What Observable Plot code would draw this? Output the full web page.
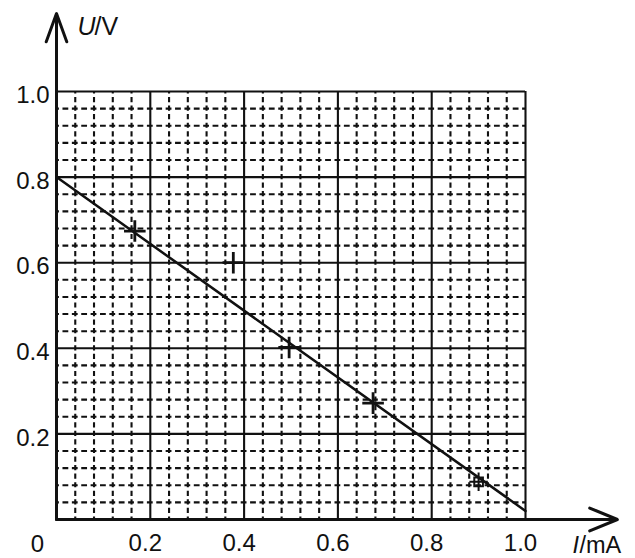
<!DOCTYPE html>
<html>
<head>
<meta charset="utf-8">
<script src="https://cdn.jsdelivr.net/npm/d3@7"></script>
<script src="https://cdn.jsdelivr.net/npm/@observablehq/plot@0.6"></script>
<style>
  html, body { margin: 0; padding: 0; background: #fff; }
</style>
</head>
<body>
<div id="chart"></div>
<script>
// Major (solid) and minor (dashed) grid values, in axis units
const majorTicks = [0.2, 0.4, 0.6, 0.8, 1.0];
const minorTicks = [0.04, 0.08, 0.12, 0.16, 0.24, 0.28, 0.32, 0.36, 0.44, 0.48,
                    0.52, 0.56, 0.64, 0.68, 0.72, 0.76, 0.84, 0.88, 0.92, 0.96];
const tickLabels = ["0.2", "0.4", "0.6", "0.8", "1.0"];

// Measured points (I in mA, U in V)
const crossI = [0.167, 0.377, 0.496, 0.675];
const crossU = [0.674, 0.600, 0.402, 0.272];
const boxI = [0.90];
const boxU = [0.088];

// Fitted straight line
const fitI = [0.0, 1.0];
const fitU = [0.80, 0.02];

// Axis extents (arrow tips)
const xAxisEnd = 1.196;
const yAxisEnd = 1.182;

const crosses = crossI.map((d, i) => ({I: d, U: crossU[i]}));
const boxes = boxI.map((d, i) => ({I: d, U: boxU[i]}));
const fit = fitI.map((d, i) => ({I: d, U: fitU[i]}));
const labelOf = new Map(majorTicks.map((d, i) => [d, tickLabels[i]]));

const ink = "#111";
const fontSize = 24;

const chart = Plot.plot({
  width: 635,
  height: 558,
  marginLeft: 56,
  marginRight: 110,
  marginTop: 91,
  marginBottom: 39,
  x: {domain: [0, 1]},
  y: {domain: [0, 1]},
  style: {fontFamily: "'Liberation Sans', Arial, sans-serif", background: "#fff", color: ink, overflow: "visible"},
  marks: [
    // dashed minor grid
    Plot.ruleY(minorTicks, {x1: 0, x2: 1, stroke: ink, strokeWidth: 2.1, strokeDasharray: "5.8,3.58", strokeDashoffset: 2.9}),
    Plot.ruleX(minorTicks, {y1: 0, y2: 1, stroke: ink, strokeWidth: 2.1, strokeDasharray: "5.2,3.36", strokeDashoffset: 2.6}),
    // solid major grid
    Plot.ruleY(majorTicks, {x1: 0, x2: 1, stroke: ink, strokeWidth: 2.1}),
    Plot.ruleX(majorTicks, {y1: 0, y2: 1, stroke: ink, strokeWidth: 2.1}),
    // fitted line
    Plot.line(fit, {x: "I", y: "U", stroke: ink, strokeWidth: 2.5}),
    // data points
    Plot.dot(crosses, {x: "I", y: "U", symbol: "plus", r: 7, stroke: ink, strokeWidth: 2.8}),
    Plot.dot(boxes, {x: "I", y: "U", symbol: "square2", r: 5.5, stroke: ink, strokeWidth: 2}),
    Plot.dot(boxes, {x: "I", y: "U", symbol: "plus", r: 6, stroke: ink, strokeWidth: 2}),
    // axes with arrows
    Plot.arrow([{x1: 0, y1: 0, x2: xAxisEnd, y2: 0}], {x1: "x1", y1: "y1", x2: "x2", y2: "y2", stroke: ink, strokeWidth: 3, headLength: 15, headAngle: 45}),
    Plot.arrow([{x1: 0, y1: 0, x2: 0, y2: yAxisEnd}], {x1: "x1", y1: "y1", x2: "x2", y2: "y2", stroke: ink, strokeWidth: 3, headLength: 15, headAngle: 40}),
    // tick labels
    Plot.axisX(majorTicks, {tickSize: 0, tickPadding: 14, dx: -5, fontSize, tickFormat: d => labelOf.get(d), fill: ink, label: null}),
    Plot.axisY(majorTicks, {tickSize: 0, tickPadding: 7, dy: 4, fontSize, tickFormat: d => labelOf.get(d), fill: ink, label: null}),
    Plot.text(["0"], {x: 0, y: 0, dx: -19, dy: 25, fontSize, fill: ink, textAnchor: "middle", lineAnchor: "middle"}),
    // axis titles
    Plot.text(["U"], {x: 0, y: 1.15, dx: 21, fontSize: 25, fontStyle: "italic", fill: ink, textAnchor: "start", lineAnchor: "middle"}),
    Plot.text(["/V"], {x: 0, y: 1.15, dx: 38, fontSize: 25, fill: ink, textAnchor: "start", lineAnchor: "middle"}),
    Plot.text(["I"], {x: 1.10, y: 0, dy: 26, fontSize: 23.5, fontStyle: "italic", fill: ink, textAnchor: "start", lineAnchor: "middle"}),
    Plot.text(["/mA"], {x: 1.10, y: 0, dx: 7, dy: 26, fontSize: 23.5, fill: ink, textAnchor: "start", lineAnchor: "middle"})
  ]
});

document.getElementById("chart").appendChild(chart);
</script>
</body>
</html>
